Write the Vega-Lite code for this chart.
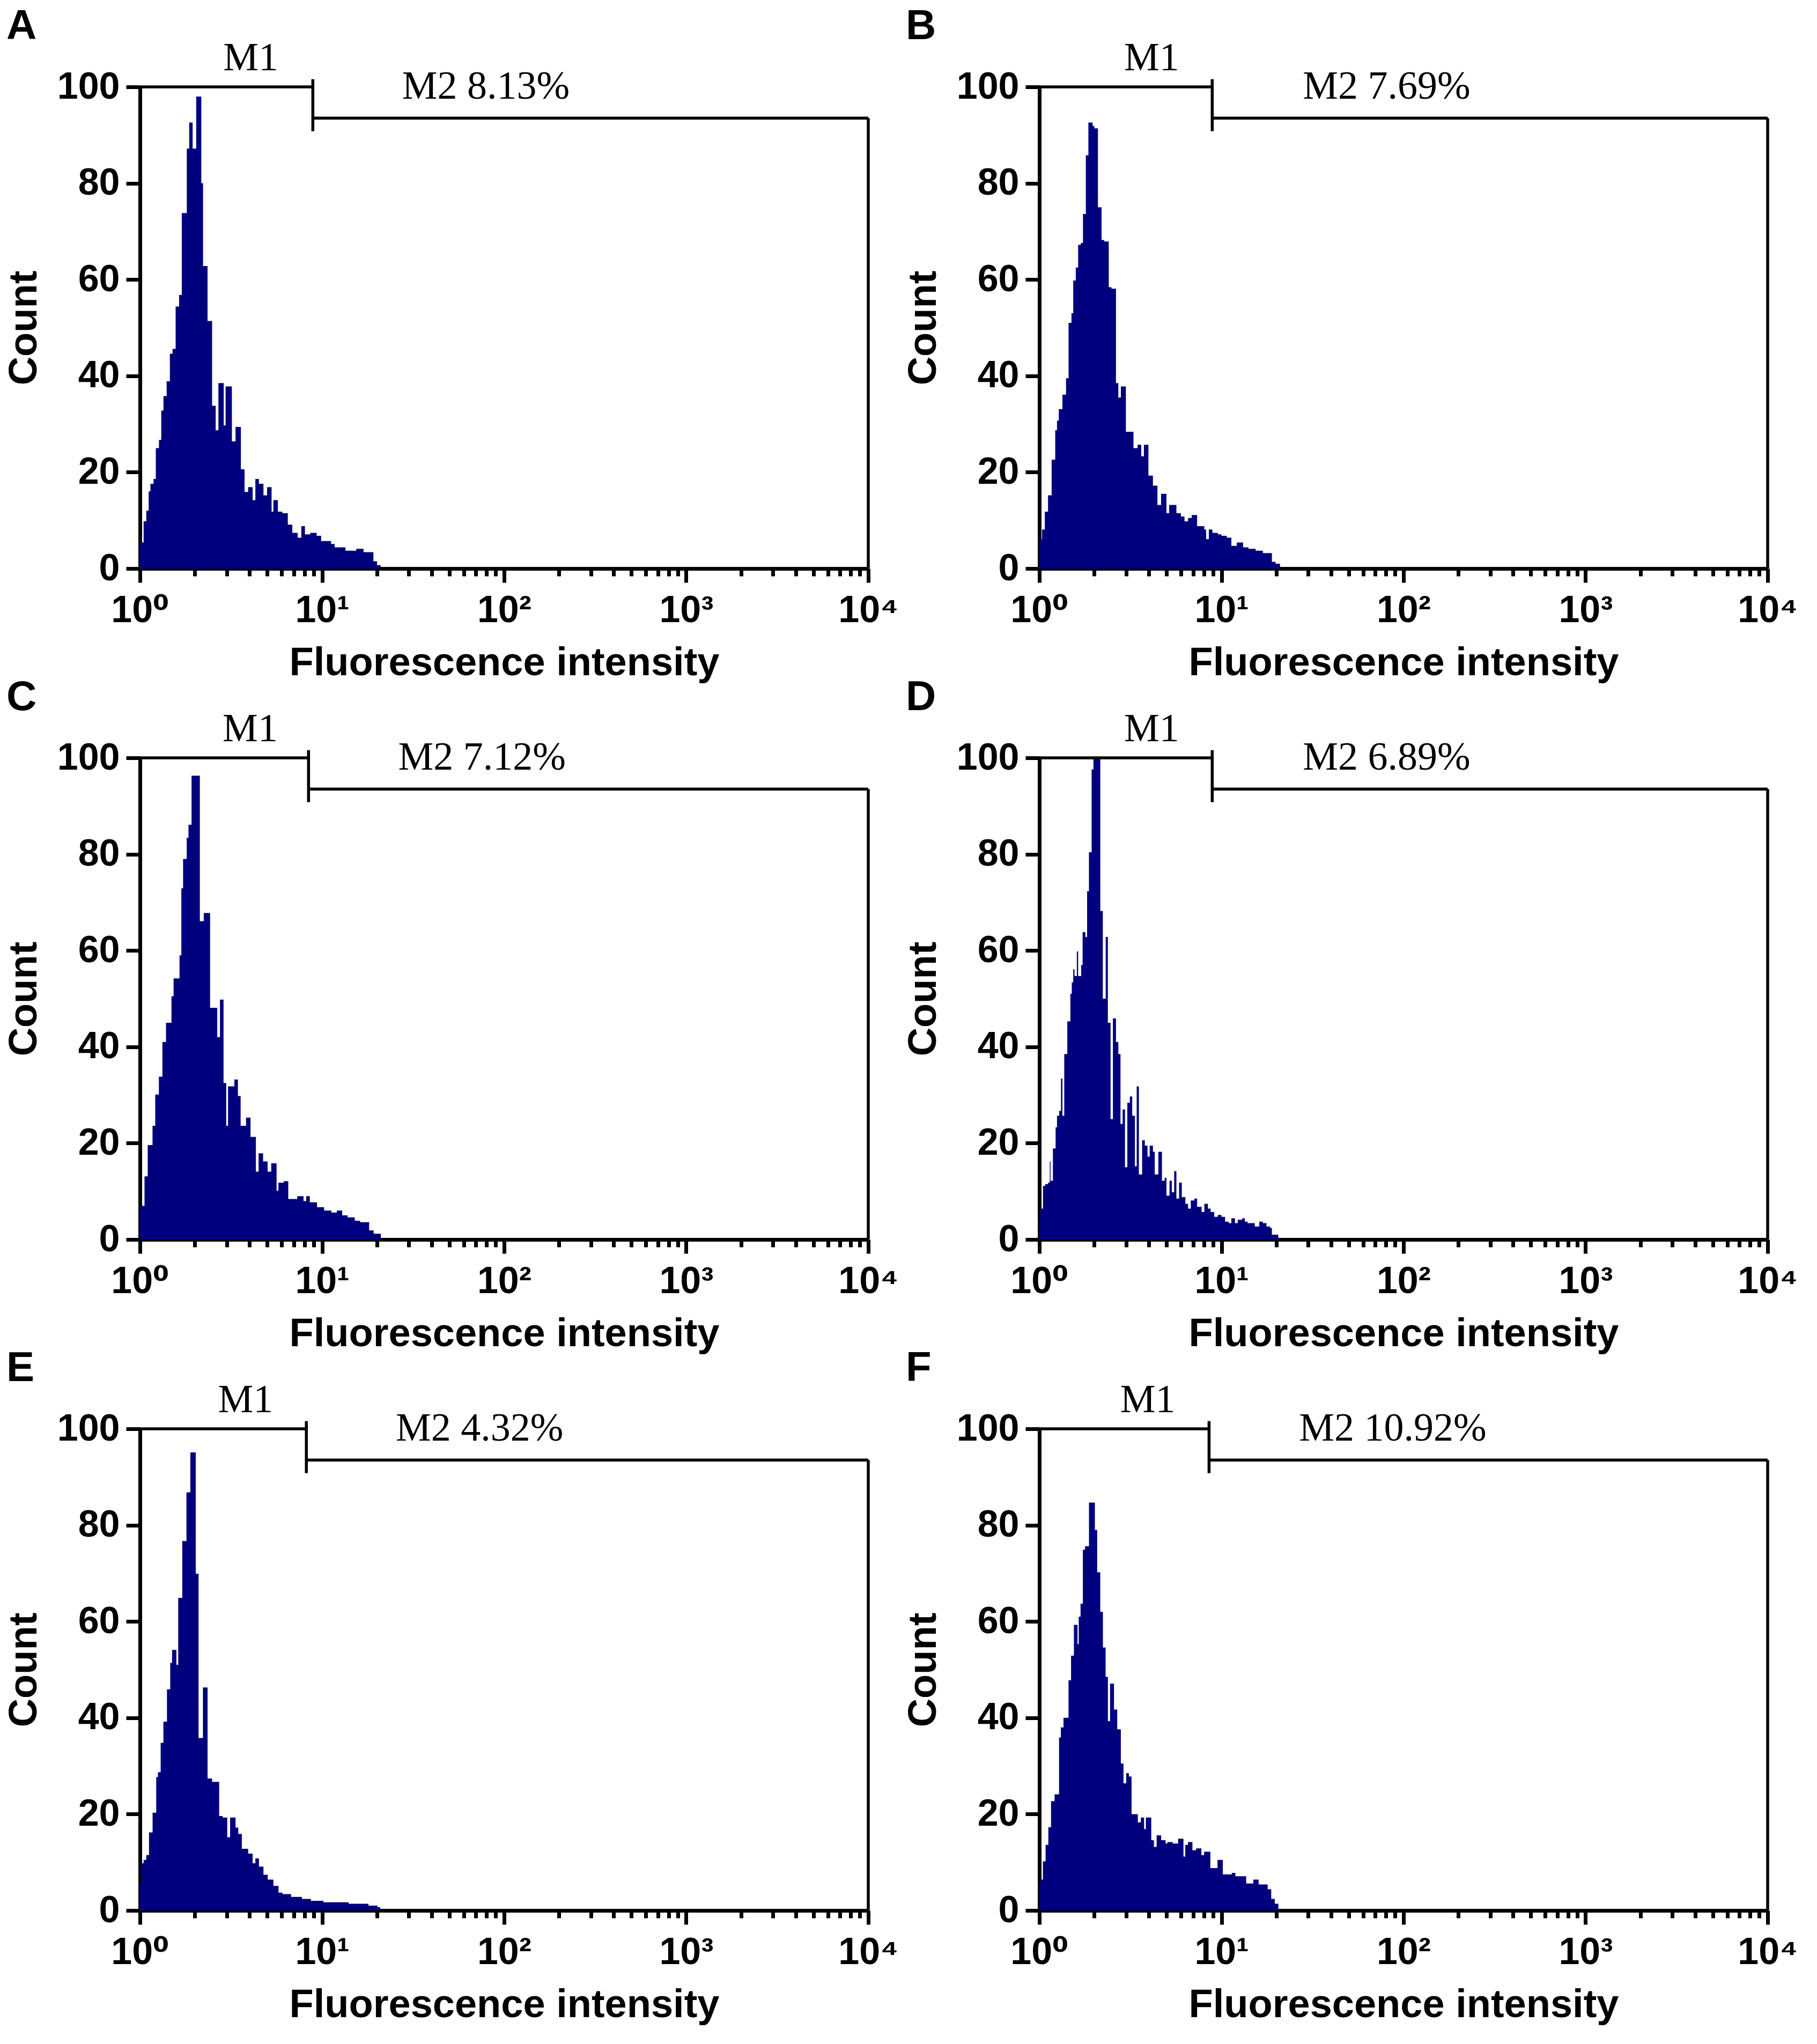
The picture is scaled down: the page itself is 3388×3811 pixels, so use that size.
{
  "$schema": "https://vega.github.io/schema/vega-lite/v6.json",
  "background": "white",
  "padding": {"left": 8, "top": 10, "right": 20, "bottom": 12},
  "config": {
    "view": {"stroke": null},
    "axis": {
      "grid": false,
      "domainColor": "black",
      "domainWidth": 7,
      "tickColor": "black",
      "tickWidth": 7,
      "tickSize": 26,
      "labelFont": "Liberation Sans, DejaVu Sans",
      "labelFontWeight": "bold",
      "labelFontSize": 70,
      "labelColor": "black",
      "titleFont": "Liberation Sans",
      "titleFontWeight": "bold",
      "titleFontSize": 74,
      "titleColor": "black"
    },
    "title": {
      "font": "Liberation Sans",
      "fontSize": 78,
      "fontWeight": "bold",
      "color": "black",
      "anchor": "start",
      "frame": "group",
      "offset": -17
    },
    "text": {"font": "Liberation Serif", "fontSize": 74, "color": "black"},
    "rule": {"color": "black", "strokeWidth": 5.5}
  },
  "datasets": {
    "gates": [
      {"panel": "A", "start": 1, "gate": 8.9, "end": 10000, "m1x": 4.06, "m2x": 27.5, "label": "M2 8.13%"},
      {"panel": "B", "start": 1, "gate": 8.9, "end": 10000, "m1x": 4.14, "m2x": 28.0, "label": "M2 7.69%"},
      {"panel": "C", "start": 1, "gate": 8.43, "end": 10000, "m1x": 4.03, "m2x": 26.2, "label": "M2 7.12%"},
      {"panel": "D", "start": 1, "gate": 8.9, "end": 10000, "m1x": 4.14, "m2x": 28.0, "label": "M2 6.89%"},
      {"panel": "E", "start": 1, "gate": 8.2, "end": 10000, "m1x": 3.8, "m2x": 25.4, "label": "M2 4.32%"},
      {"panel": "F", "start": 1, "gate": 8.55, "end": 10000, "m1x": 3.94, "m2x": 26.7, "label": "M2 10.92%"}
    ],
    "hist": [
      {"panel":"A","fluor":1.0,"count":5.4},{"panel":"A","fluor":1.047,"count":9.8},{"panel":"A","fluor":1.083,"count":12},{"panel":"A","fluor":1.116,"count":16},
      {"panel":"A","fluor":1.141,"count":17.6},{"panel":"A","fluor":1.187,"count":18.6},{"panel":"A","fluor":1.222,"count":25},{"panel":"A","fluor":1.271,"count":26.7},
      {"panel":"A","fluor":1.309,"count":32.8},{"panel":"A","fluor":1.346,"count":35.8},{"panel":"A","fluor":1.401,"count":38.9},{"panel":"A","fluor":1.46,"count":44.6},
      {"panel":"A","fluor":1.51,"count":45.6},{"panel":"A","fluor":1.57,"count":54.4},{"panel":"A","fluor":1.64,"count":56.8},{"panel":"A","fluor":1.697,"count":73.8},
      {"panel":"A","fluor":1.808,"count":87.2},{"panel":"A","fluor":1.864,"count":92.6},{"panel":"A","fluor":1.946,"count":87.2},{"panel":"A","fluor":2.036,"count":98},
      {"panel":"A","fluor":2.172,"count":80},{"panel":"A","fluor":2.22,"count":62.8},{"panel":"A","fluor":2.35,"count":51.4},{"panel":"A","fluor":2.489,"count":33.8},
      {"panel":"A","fluor":2.605,"count":28.7},{"panel":"A","fluor":2.696,"count":38.5},{"panel":"A","fluor":2.885,"count":29.7},{"panel":"A","fluor":2.953,"count":37.8},
      {"panel":"A","fluor":3.198,"count":26.4},{"panel":"A","fluor":3.348,"count":29.4},{"panel":"A","fluor":3.583,"count":20.6},{"panel":"A","fluor":3.753,"count":15.9},
      {"panel":"A","fluor":3.928,"count":16.9},{"panel":"A","fluor":4.157,"count":14.2},{"panel":"A","fluor":4.303,"count":18.6},{"panel":"A","fluor":4.5,"count":17.6},
      {"panel":"A","fluor":4.766,"count":15.2},{"panel":"A","fluor":4.99,"count":16.9},{"panel":"A","fluor":5.282,"count":11.8},{"panel":"A","fluor":5.403,"count":14.2},
      {"panel":"A","fluor":5.719,"count":11.8},{"panel":"A","fluor":6.054,"count":11.5},{"panel":"A","fluor":6.486,"count":9.1},{"panel":"A","fluor":6.867,"count":7.4},
      {"panel":"A","fluor":7.348,"count":6.4},{"panel":"A","fluor":7.692,"count":8.8},{"panel":"A","fluor":8.053,"count":7.1},{"panel":"A","fluor":8.622,"count":7.4},
      {"panel":"A","fluor":9.34,"count":6.8},{"panel":"A","fluor":9.887,"count":5.7},{"panel":"A","fluor":10.59,"count":5.7},{"panel":"A","fluor":11.21,"count":5.1},
      {"panel":"A","fluor":11.73,"count":4.4},{"panel":"A","fluor":12.56,"count":4.4},{"panel":"A","fluor":13.45,"count":3.7},{"panel":"A","fluor":15.42,"count":4.1},
      {"panel":"A","fluor":16.9,"count":3.4},{"panel":"A","fluor":18.08,"count":3.4},{"panel":"A","fluor":19.15,"count":1.5},{"panel":"A","fluor":20.04,"count":0.7},
      {"panel":"A","fluor":20.98,"count":0},

      {"panel":"B","fluor":1.0,"count":6.1},{"panel":"B","fluor":1.035,"count":8.1},{"panel":"B","fluor":1.071,"count":11.8},{"panel":"B","fluor":1.116,"count":15.2},
      {"panel":"B","fluor":1.168,"count":22.6},{"panel":"B","fluor":1.222,"count":28.7},{"panel":"B","fluor":1.25,"count":30.7},{"panel":"B","fluor":1.279,"count":33.1},
      {"panel":"B","fluor":1.339,"count":36.1},{"panel":"B","fluor":1.401,"count":39.5},{"panel":"B","fluor":1.447,"count":51},{"panel":"B","fluor":1.501,"count":53},
      {"panel":"B","fluor":1.535,"count":59.8},{"panel":"B","fluor":1.585,"count":62.5},{"panel":"B","fluor":1.633,"count":67.2},{"panel":"B","fluor":1.69,"count":67.6},
      {"panel":"B","fluor":1.736,"count":73.6},{"panel":"B","fluor":1.8,"count":85.8},{"panel":"B","fluor":1.859,"count":92.6},{"panel":"B","fluor":1.96,"count":91.9},
      {"panel":"B","fluor":2.004,"count":91.4},{"panel":"B","fluor":2.098,"count":75},{"panel":"B","fluor":2.196,"count":68.2},{"panel":"B","fluor":2.272,"count":67.9},
      {"panel":"B","fluor":2.405,"count":58.4},{"panel":"B","fluor":2.489,"count":58.1},{"panel":"B","fluor":2.635,"count":38.5},{"panel":"B","fluor":2.715,"count":35.5},
      {"panel":"B","fluor":2.803,"count":37.8},{"panel":"B","fluor":2.987,"count":28.4},{"panel":"B","fluor":3.126,"count":28.4},{"panel":"B","fluor":3.288,"count":25},
      {"panel":"B","fluor":3.465,"count":25.7},{"panel":"B","fluor":3.626,"count":23.3},{"panel":"B","fluor":3.753,"count":25.7},{"panel":"B","fluor":3.972,"count":19.3},
      {"panel":"B","fluor":4.205,"count":17.2},{"panel":"B","fluor":4.452,"count":13.2},{"panel":"B","fluor":4.66,"count":15.5},{"panel":"B","fluor":4.989,"count":11.5},
      {"panel":"B","fluor":5.163,"count":13.2},{"panel":"B","fluor":5.658,"count":11.5},{"panel":"B","fluor":5.989,"count":10.8},{"panel":"B","fluor":6.266,"count":9.8},
      {"panel":"B","fluor":6.559,"count":10.5},{"panel":"B","fluor":6.866,"count":11.1},{"panel":"B","fluor":7.352,"count":8.8},{"panel":"B","fluor":8.055,"count":8.1},
      {"panel":"B","fluor":8.241,"count":6.1},{"panel":"B","fluor":8.527,"count":8.1},{"panel":"B","fluor":8.923,"count":7.4},{"panel":"B","fluor":9.555,"count":7.1},
      {"panel":"B","fluor":10.0,"count":6.8},{"panel":"B","fluor":10.71,"count":6.4},{"panel":"B","fluor":11.34,"count":4.7},{"panel":"B","fluor":12.14,"count":5.4},
      {"panel":"B","fluor":13.15,"count":4.4},{"panel":"B","fluor":14.08,"count":4.1},{"panel":"B","fluor":15.42,"count":3.7},{"panel":"B","fluor":16.89,"count":3.2},
      {"panel":"B","fluor":18.93,"count":1.4},{"panel":"B","fluor":19.82,"count":1.0},{"panel":"B","fluor":20.98,"count":0},

      {"panel":"C","fluor":1.0,"count":6.7},{"panel":"C","fluor":1.011,"count":7.0},{"panel":"C","fluor":1.059,"count":13.1},{"panel":"C","fluor":1.103,"count":19.6},
      {"panel":"C","fluor":1.172,"count":23.6},{"panel":"C","fluor":1.213,"count":30.1},{"panel":"C","fluor":1.27,"count":33.8},{"panel":"C","fluor":1.328,"count":41.0},
      {"panel":"C","fluor":1.39,"count":45.0},{"panel":"C","fluor":1.489,"count":50.5},{"panel":"C","fluor":1.53,"count":54.2},{"panel":"C","fluor":1.649,"count":59.0},
      {"panel":"C","fluor":1.687,"count":72.9},{"panel":"C","fluor":1.725,"count":79.0},{"panel":"C","fluor":1.806,"count":83.4},{"panel":"C","fluor":1.847,"count":86.1},
      {"panel":"C","fluor":1.92,"count":96.3},{"panel":"C","fluor":2.132,"count":66.1},{"panel":"C","fluor":2.24,"count":67.8},{"panel":"C","fluor":2.427,"count":48.1},
      {"panel":"C","fluor":2.658,"count":42.0},{"panel":"C","fluor":2.75,"count":49.8},{"panel":"C","fluor":2.877,"count":32.5},{"panel":"C","fluor":2.977,"count":23.6},
      {"panel":"C","fluor":3.045,"count":31.8},{"panel":"C","fluor":3.298,"count":33.2},{"panel":"C","fluor":3.451,"count":29.8},{"panel":"C","fluor":3.571,"count":23.6},
      {"panel":"C","fluor":3.823,"count":25.3},{"panel":"C","fluor":4.047,"count":21.3},{"panel":"C","fluor":4.332,"count":14.1},{"panel":"C","fluor":4.482,"count":17.9},
      {"panel":"C","fluor":4.745,"count":16.2},{"panel":"C","fluor":5.023,"count":14.1},{"panel":"C","fluor":5.256,"count":15.8},{"panel":"C","fluor":5.627,"count":10.1},
      {"panel":"C","fluor":5.757,"count":11.8},{"panel":"C","fluor":6.163,"count":12.1},{"panel":"C","fluor":6.522,"count":8.4},{"panel":"C","fluor":7.307,"count":9.0},
      {"panel":"C","fluor":7.912,"count":8.0},{"panel":"C","fluor":8.187,"count":9.0},{"panel":"C","fluor":8.568,"count":7.7},{"panel":"C","fluor":9.384,"count":6.7},
      {"panel":"C","fluor":10.27,"count":6.0},{"panel":"C","fluor":11.25,"count":5.6},{"panel":"C","fluor":12.05,"count":6.0},{"panel":"C","fluor":12.9,"count":5.0},
      {"panel":"C","fluor":13.81,"count":4.6},{"panel":"C","fluor":15.12,"count":3.9},{"panel":"C","fluor":16.19,"count":3.6},{"panel":"C","fluor":18.14,"count":1.9},
      {"panel":"C","fluor":19.2,"count":1.2},{"panel":"C","fluor":21.03,"count":0},

      {"panel":"D","fluor":1.0,"count":3.7},{"panel":"D","fluor":1.011,"count":6.4},{"panel":"D","fluor":1.047,"count":11.1},{"panel":"D","fluor":1.076,"count":11.5},
      {"panel":"D","fluor":1.116,"count":11.8},{"panel":"D","fluor":1.141,"count":16.2},{"panel":"D","fluor":1.152,"count":12.2},{"panel":"D","fluor":1.187,"count":18.9},
      {"panel":"D","fluor":1.228,"count":23.3},{"panel":"D","fluor":1.25,"count":25.7},{"panel":"D","fluor":1.285,"count":26.7},{"panel":"D","fluor":1.315,"count":33.4},
      {"panel":"D","fluor":1.339,"count":25.7},{"panel":"D","fluor":1.37,"count":38.5},{"panel":"D","fluor":1.424,"count":45.3},{"panel":"D","fluor":1.48,"count":51.0},
      {"panel":"D","fluor":1.507,"count":53.4},{"panel":"D","fluor":1.535,"count":56.1},{"panel":"D","fluor":1.56,"count":54.7},{"panel":"D","fluor":1.607,"count":59.8},
      {"panel":"D","fluor":1.633,"count":54.7},{"panel":"D","fluor":1.697,"count":57.0},{"panel":"D","fluor":1.728,"count":63.8},{"panel":"D","fluor":1.789,"count":62.8},
      {"panel":"D","fluor":1.829,"count":72.3},{"panel":"D","fluor":1.872,"count":80.4},{"panel":"D","fluor":1.937,"count":97.6},{"panel":"D","fluor":1.982,"count":99.9},
      {"panel":"D","fluor":2.161,"count":68.2},{"panel":"D","fluor":2.231,"count":50.0},{"panel":"D","fluor":2.314,"count":62.8},{"panel":"D","fluor":2.378,"count":45.0},
      {"panel":"D","fluor":2.461,"count":25.0},{"panel":"D","fluor":2.535,"count":45.9},{"panel":"D","fluor":2.635,"count":41.0},{"panel":"D","fluor":2.715,"count":38.5},
      {"panel":"D","fluor":2.79,"count":24.0},{"panel":"D","fluor":2.867,"count":27.0},{"panel":"D","fluor":2.953,"count":15.0},{"panel":"D","fluor":3.042,"count":28.4},
      {"panel":"D","fluor":3.141,"count":29.7},{"panel":"D","fluor":3.236,"count":25.7},{"panel":"D","fluor":3.349,"count":15.2},{"panel":"D","fluor":3.425,"count":31.8},
      {"panel":"D","fluor":3.52,"count":13.5},{"panel":"D","fluor":3.667,"count":20.6},{"panel":"D","fluor":3.795,"count":19.5},{"panel":"D","fluor":3.927,"count":17.2},
      {"panel":"D","fluor":4.036,"count":19.5},{"panel":"D","fluor":4.205,"count":18.2},{"panel":"D","fluor":4.302,"count":13.5},{"panel":"D","fluor":4.503,"count":18.2},
      {"panel":"D","fluor":4.713,"count":12.2},{"panel":"D","fluor":4.877,"count":12.8},{"panel":"D","fluor":4.989,"count":9.1},{"panel":"D","fluor":5.186,"count":12.2},
      {"panel":"D","fluor":5.341,"count":9.8},{"panel":"D","fluor":5.502,"count":14.2},{"panel":"D","fluor":5.658,"count":8.5},{"panel":"D","fluor":5.852,"count":11.8},
      {"panel":"D","fluor":6.057,"count":8.8},{"panel":"D","fluor":6.339,"count":7.4},{"panel":"D","fluor":6.559,"count":6.4},{"panel":"D","fluor":6.787,"count":8.1},
      {"panel":"D","fluor":7.103,"count":8.5},{"panel":"D","fluor":7.352,"count":6.8},{"panel":"D","fluor":7.785,"count":5.7},{"panel":"D","fluor":8.055,"count":7.4},
      {"panel":"D","fluor":8.428,"count":6.4},{"panel":"D","fluor":8.722,"count":5.7},{"panel":"D","fluor":9.13,"count":4.7},{"panel":"D","fluor":9.555,"count":5.1},
      {"panel":"D","fluor":10.0,"count":4.7},{"panel":"D","fluor":10.47,"count":3.7},{"panel":"D","fluor":10.96,"count":3.4},{"panel":"D","fluor":11.34,"count":4.4},
      {"panel":"D","fluor":11.87,"count":3.4},{"panel":"D","fluor":12.28,"count":4.1},{"panel":"D","fluor":13.0,"count":4.4},{"panel":"D","fluor":13.45,"count":3.7},
      {"panel":"D","fluor":13.92,"count":3.4},{"panel":"D","fluor":14.57,"count":3.4},{"panel":"D","fluor":15.25,"count":2.7},{"panel":"D","fluor":16.14,"count":3.7},
      {"panel":"D","fluor":16.89,"count":3.4},{"panel":"D","fluor":17.68,"count":2.7},{"panel":"D","fluor":18.51,"count":2.4},{"panel":"D","fluor":18.93,"count":1.0},
      {"panel":"D","fluor":20.51,"count":0},

      {"panel":"E","fluor":1.0,"count":5.4},{"panel":"E","fluor":1.011,"count":9.8},{"panel":"E","fluor":1.047,"count":10.5},{"panel":"E","fluor":1.083,"count":11.5},
      {"panel":"E","fluor":1.121,"count":16.2},{"panel":"E","fluor":1.173,"count":20.3},{"panel":"E","fluor":1.228,"count":27.7},{"panel":"E","fluor":1.255,"count":28.7},
      {"panel":"E","fluor":1.299,"count":34.8},{"panel":"E","fluor":1.345,"count":39.2},{"panel":"E","fluor":1.407,"count":45.9},{"panel":"E","fluor":1.466,"count":51.4},
      {"panel":"E","fluor":1.501,"count":54.1},{"panel":"E","fluor":1.585,"count":51.0},{"panel":"E","fluor":1.622,"count":64.9},{"panel":"E","fluor":1.707,"count":76.7},
      {"panel":"E","fluor":1.8,"count":86.8},{"panel":"E","fluor":1.891,"count":95.1},{"panel":"E","fluor":2.025,"count":69.9},{"panel":"E","fluor":2.098,"count":35.8},
      {"panel":"E","fluor":2.217,"count":46.3},{"panel":"E","fluor":2.351,"count":27.4},{"panel":"E","fluor":2.489,"count":26.7},{"panel":"E","fluor":2.722,"count":19.6},
      {"panel":"E","fluor":2.848,"count":19.3},{"panel":"E","fluor":3.015,"count":15.2},{"panel":"E","fluor":3.126,"count":19.3},{"panel":"E","fluor":3.349,"count":17.2},
      {"panel":"E","fluor":3.465,"count":15.9},{"panel":"E","fluor":3.626,"count":12.8},{"panel":"E","fluor":3.927,"count":11.8},{"panel":"E","fluor":4.157,"count":9.8},
      {"panel":"E","fluor":4.302,"count":10.8},{"panel":"E","fluor":4.503,"count":9.1},{"panel":"E","fluor":4.767,"count":7.4},{"panel":"E","fluor":5.03,"count":6.4},
      {"panel":"E","fluor":5.406,"count":5.1},{"panel":"E","fluor":5.766,"count":3.7},{"panel":"E","fluor":6.057,"count":3.4},{"panel":"E","fluor":6.761,"count":2.8},
      {"panel":"E","fluor":7.75,"count":2.4},{"panel":"E","fluor":8.684,"count":2.0},{"panel":"E","fluor":10.18,"count":1.7},{"panel":"E","fluor":14.01,"count":1.4},
      {"panel":"E","fluor":17.98,"count":1.0},{"panel":"E","fluor":20.16,"count":0.7},{"panel":"E","fluor":20.86,"count":0},

      {"panel":"F","fluor":1.0,"count":5.1},{"panel":"F","fluor":1.011,"count":6.4},{"panel":"F","fluor":1.046,"count":10.2},{"panel":"F","fluor":1.082,"count":13.6},
      {"panel":"F","fluor":1.12,"count":17.3},{"panel":"F","fluor":1.159,"count":22.7},{"panel":"F","fluor":1.212,"count":24.1},{"panel":"F","fluor":1.283,"count":35.9},
      {"panel":"F","fluor":1.312,"count":38.0},{"panel":"F","fluor":1.357,"count":40.0},{"panel":"F","fluor":1.446,"count":47.8},{"panel":"F","fluor":1.493,"count":52.9},
      {"panel":"F","fluor":1.548,"count":59.3},{"panel":"F","fluor":1.62,"count":55.3},{"panel":"F","fluor":1.645,"count":61.0},{"panel":"F","fluor":1.684,"count":63.7},
      {"panel":"F","fluor":1.734,"count":74.9},{"panel":"F","fluor":1.781,"count":75.6},{"panel":"F","fluor":1.873,"count":84.7},{"panel":"F","fluor":2.018,"count":79.0},
      {"panel":"F","fluor":2.078,"count":70.2},{"panel":"F","fluor":2.16,"count":62.0},{"panel":"F","fluor":2.234,"count":54.6},{"panel":"F","fluor":2.311,"count":48.5},
      {"panel":"F","fluor":2.38,"count":39.3},{"panel":"F","fluor":2.445,"count":47.1},{"panel":"F","fluor":2.57,"count":41.7},{"panel":"F","fluor":2.677,"count":37.6},
      {"panel":"F","fluor":2.802,"count":30.5},{"panel":"F","fluor":2.898,"count":26.4},{"panel":"F","fluor":2.998,"count":28.5},{"panel":"F","fluor":3.102,"count":27.8},
      {"panel":"F","fluor":3.209,"count":20.0},{"panel":"F","fluor":3.474,"count":18.3},{"panel":"F","fluor":3.61,"count":19.3},{"panel":"F","fluor":3.76,"count":16.9},
      {"panel":"F","fluor":3.846,"count":19.3},{"panel":"F","fluor":4.117,"count":14.6},{"panel":"F","fluor":4.259,"count":13.2},{"panel":"F","fluor":4.406,"count":15.6},
      {"panel":"F","fluor":4.664,"count":14.6},{"panel":"F","fluor":4.934,"count":13.9},{"panel":"F","fluor":5.047,"count":14.2},{"panel":"F","fluor":5.402,"count":13.9},
      {"panel":"F","fluor":5.781,"count":14.9},{"panel":"F","fluor":6.187,"count":11.2},{"panel":"F","fluor":6.329,"count":13.6},{"panel":"F","fluor":6.548,"count":14.2},
      {"panel":"F","fluor":6.929,"count":12.5},{"panel":"F","fluor":7.25,"count":12.9},{"panel":"F","fluor":7.76,"count":11.5},{"panel":"F","fluor":8.028,"count":12.2},
      {"panel":"F","fluor":8.69,"count":8.8},{"panel":"F","fluor":9.514,"count":10.5},{"panel":"F","fluor":10.18,"count":7.5},{"panel":"F","fluor":11.4,"count":7.8},
      {"panel":"F","fluor":11.93,"count":7.1},{"panel":"F","fluor":13.67,"count":5.6},{"panel":"F","fluor":14.96,"count":6.4},{"panel":"F","fluor":16.01,"count":5.4},
      {"panel":"F","fluor":17.94,"count":4.4},{"panel":"F","fluor":18.77,"count":2.4},{"panel":"F","fluor":19.63,"count":1.4},{"panel":"F","fluor":20.54,"count":0}
    ]
  },
  "columns": 2,
  "spacing": {"row": 353, "column": 319},
  "bounds": "flush",
  "concat": [
    {
      "title": {"text": "A", "dx": -249},
      "width": 1358, "height": 898,
      "resolve": {"axis": {"x": "independent"}},
      "layer": [
        {
          "data": {"name": "hist"},
          "transform": [{"filter": "datum.panel === 'A'"}],
          "mark": {"type": "area", "interpolate": "step-after", "color": "#00007f"},
          "encoding": {
            "x": {"field": "fluor", "type": "quantitative", "scale": {"type": "log", "domain": [1, 10000], "nice": false},
              "axis": {"orient": "bottom", "values": [1, 10, 100, 1000, 10000], "labelExpr": "'10' + ['⁰','¹','²','³','⁴'][round(log(datum.value)/LN10)]", "labelFlush": false, "labelPadding": 18, "title": "Fluorescence intensity", "titlePadding": 27}},
            "y": {"field": "count", "type": "quantitative", "scale": {"domain": [0, 100], "nice": false},
              "axis": {"values": [0, 20, 40, 60, 80, 100], "labelPadding": 12, "title": "Count", "titlePadding": 23}}
          }
        },
        {
          "data": {"name": "gates"},
          "transform": [{"filter": "datum.panel === 'A'"}],
          "layer": [
            {"mark": "rule", "encoding": {"x": {"field": "start", "type": "quantitative", "title": null}, "x2": {"field": "gate"}, "y": {"datum": 100}}},
            {"mark": "rule", "encoding": {"x": {"field": "gate", "type": "quantitative", "title": null}, "y": {"datum": 90.8}, "y2": {"datum": 101.6}}},
            {"mark": "rule", "encoding": {"x": {"field": "gate", "type": "quantitative", "title": null,
              "axis": {"orient": "bottom", "values": [2,3,4,5,6,7,8,9,20,30,40,50,60,70,80,90,200,300,400,500,600,700,800,900,2000,3000,4000,5000,6000,7000,8000,9000], "labels": false, "domain": false, "tickSize": 14, "title": null}},
              "x2": {"field": "end"}, "y": {"datum": 93.5}}},
            {"mark": "rule", "encoding": {"x": {"field": "end", "type": "quantitative", "title": null}, "y": {"datum": 0}, "y2": {"datum": 93.5}}},
            {"mark": {"type": "text", "align": "center", "baseline": "alphabetic"}, "encoding": {"x": {"field": "m1x", "type": "quantitative", "title": null}, "y": {"datum": 103.5}, "text": {"value": "M1"}}},
            {"mark": {"type": "text", "align": "left", "baseline": "alphabetic"}, "encoding": {"x": {"field": "m2x", "type": "quantitative", "title": null}, "y": {"datum": 97.6}, "text": {"field": "label"}}}
          ]
        }
      ]
    },
    {
      "title": {"text": "B", "dx": -249},
      "width": 1358, "height": 898,
      "resolve": {"axis": {"x": "independent"}},
      "layer": [
        {
          "data": {"name": "hist"},
          "transform": [{"filter": "datum.panel === 'B'"}],
          "mark": {"type": "area", "interpolate": "step-after", "color": "#00007f"},
          "encoding": {
            "x": {"field": "fluor", "type": "quantitative", "scale": {"type": "log", "domain": [1, 10000], "nice": false},
              "axis": {"orient": "bottom", "values": [1, 10, 100, 1000, 10000], "labelExpr": "'10' + ['⁰','¹','²','³','⁴'][round(log(datum.value)/LN10)]", "labelFlush": false, "labelPadding": 18, "title": "Fluorescence intensity", "titlePadding": 27}},
            "y": {"field": "count", "type": "quantitative", "scale": {"domain": [0, 100], "nice": false},
              "axis": {"values": [0, 20, 40, 60, 80, 100], "labelPadding": 12, "title": "Count", "titlePadding": 23}}
          }
        },
        {
          "data": {"name": "gates"},
          "transform": [{"filter": "datum.panel === 'B'"}],
          "layer": [
            {"mark": "rule", "encoding": {"x": {"field": "start", "type": "quantitative", "title": null}, "x2": {"field": "gate"}, "y": {"datum": 100}}},
            {"mark": "rule", "encoding": {"x": {"field": "gate", "type": "quantitative", "title": null}, "y": {"datum": 90.8}, "y2": {"datum": 101.6}}},
            {"mark": "rule", "encoding": {"x": {"field": "gate", "type": "quantitative", "title": null,
              "axis": {"orient": "bottom", "values": [2,3,4,5,6,7,8,9,20,30,40,50,60,70,80,90,200,300,400,500,600,700,800,900,2000,3000,4000,5000,6000,7000,8000,9000], "labels": false, "domain": false, "tickSize": 14, "title": null}},
              "x2": {"field": "end"}, "y": {"datum": 93.5}}},
            {"mark": "rule", "encoding": {"x": {"field": "end", "type": "quantitative", "title": null}, "y": {"datum": 0}, "y2": {"datum": 93.5}}},
            {"mark": {"type": "text", "align": "center", "baseline": "alphabetic"}, "encoding": {"x": {"field": "m1x", "type": "quantitative", "title": null}, "y": {"datum": 103.5}, "text": {"value": "M1"}}},
            {"mark": {"type": "text", "align": "left", "baseline": "alphabetic"}, "encoding": {"x": {"field": "m2x", "type": "quantitative", "title": null}, "y": {"datum": 97.6}, "text": {"field": "label"}}}
          ]
        }
      ]
    },
    {
      "title": {"text": "C", "dx": -249},
      "width": 1358, "height": 898,
      "resolve": {"axis": {"x": "independent"}},
      "layer": [
        {
          "data": {"name": "hist"},
          "transform": [{"filter": "datum.panel === 'C'"}],
          "mark": {"type": "area", "interpolate": "step-after", "color": "#00007f"},
          "encoding": {
            "x": {"field": "fluor", "type": "quantitative", "scale": {"type": "log", "domain": [1, 10000], "nice": false},
              "axis": {"orient": "bottom", "values": [1, 10, 100, 1000, 10000], "labelExpr": "'10' + ['⁰','¹','²','³','⁴'][round(log(datum.value)/LN10)]", "labelFlush": false, "labelPadding": 18, "title": "Fluorescence intensity", "titlePadding": 27}},
            "y": {"field": "count", "type": "quantitative", "scale": {"domain": [0, 100], "nice": false},
              "axis": {"values": [0, 20, 40, 60, 80, 100], "labelPadding": 12, "title": "Count", "titlePadding": 23}}
          }
        },
        {
          "data": {"name": "gates"},
          "transform": [{"filter": "datum.panel === 'C'"}],
          "layer": [
            {"mark": "rule", "encoding": {"x": {"field": "start", "type": "quantitative", "title": null}, "x2": {"field": "gate"}, "y": {"datum": 100}}},
            {"mark": "rule", "encoding": {"x": {"field": "gate", "type": "quantitative", "title": null}, "y": {"datum": 90.8}, "y2": {"datum": 101.6}}},
            {"mark": "rule", "encoding": {"x": {"field": "gate", "type": "quantitative", "title": null,
              "axis": {"orient": "bottom", "values": [2,3,4,5,6,7,8,9,20,30,40,50,60,70,80,90,200,300,400,500,600,700,800,900,2000,3000,4000,5000,6000,7000,8000,9000], "labels": false, "domain": false, "tickSize": 14, "title": null}},
              "x2": {"field": "end"}, "y": {"datum": 93.5}}},
            {"mark": "rule", "encoding": {"x": {"field": "end", "type": "quantitative", "title": null}, "y": {"datum": 0}, "y2": {"datum": 93.5}}},
            {"mark": {"type": "text", "align": "center", "baseline": "alphabetic"}, "encoding": {"x": {"field": "m1x", "type": "quantitative", "title": null}, "y": {"datum": 103.5}, "text": {"value": "M1"}}},
            {"mark": {"type": "text", "align": "left", "baseline": "alphabetic"}, "encoding": {"x": {"field": "m2x", "type": "quantitative", "title": null}, "y": {"datum": 97.6}, "text": {"field": "label"}}}
          ]
        }
      ]
    },
    {
      "title": {"text": "D", "dx": -249},
      "width": 1358, "height": 898,
      "resolve": {"axis": {"x": "independent"}},
      "layer": [
        {
          "data": {"name": "hist"},
          "transform": [{"filter": "datum.panel === 'D'"}],
          "mark": {"type": "area", "interpolate": "step-after", "color": "#00007f"},
          "encoding": {
            "x": {"field": "fluor", "type": "quantitative", "scale": {"type": "log", "domain": [1, 10000], "nice": false},
              "axis": {"orient": "bottom", "values": [1, 10, 100, 1000, 10000], "labelExpr": "'10' + ['⁰','¹','²','³','⁴'][round(log(datum.value)/LN10)]", "labelFlush": false, "labelPadding": 18, "title": "Fluorescence intensity", "titlePadding": 27}},
            "y": {"field": "count", "type": "quantitative", "scale": {"domain": [0, 100], "nice": false},
              "axis": {"values": [0, 20, 40, 60, 80, 100], "labelPadding": 12, "title": "Count", "titlePadding": 23}}
          }
        },
        {
          "data": {"name": "gates"},
          "transform": [{"filter": "datum.panel === 'D'"}],
          "layer": [
            {"mark": "rule", "encoding": {"x": {"field": "start", "type": "quantitative", "title": null}, "x2": {"field": "gate"}, "y": {"datum": 100}}},
            {"mark": "rule", "encoding": {"x": {"field": "gate", "type": "quantitative", "title": null}, "y": {"datum": 90.8}, "y2": {"datum": 101.6}}},
            {"mark": "rule", "encoding": {"x": {"field": "gate", "type": "quantitative", "title": null,
              "axis": {"orient": "bottom", "values": [2,3,4,5,6,7,8,9,20,30,40,50,60,70,80,90,200,300,400,500,600,700,800,900,2000,3000,4000,5000,6000,7000,8000,9000], "labels": false, "domain": false, "tickSize": 14, "title": null}},
              "x2": {"field": "end"}, "y": {"datum": 93.5}}},
            {"mark": "rule", "encoding": {"x": {"field": "end", "type": "quantitative", "title": null}, "y": {"datum": 0}, "y2": {"datum": 93.5}}},
            {"mark": {"type": "text", "align": "center", "baseline": "alphabetic"}, "encoding": {"x": {"field": "m1x", "type": "quantitative", "title": null}, "y": {"datum": 103.5}, "text": {"value": "M1"}}},
            {"mark": {"type": "text", "align": "left", "baseline": "alphabetic"}, "encoding": {"x": {"field": "m2x", "type": "quantitative", "title": null}, "y": {"datum": 97.6}, "text": {"field": "label"}}}
          ]
        }
      ]
    },
    {
      "title": {"text": "E", "dx": -249},
      "width": 1358, "height": 898,
      "resolve": {"axis": {"x": "independent"}},
      "layer": [
        {
          "data": {"name": "hist"},
          "transform": [{"filter": "datum.panel === 'E'"}],
          "mark": {"type": "area", "interpolate": "step-after", "color": "#00007f"},
          "encoding": {
            "x": {"field": "fluor", "type": "quantitative", "scale": {"type": "log", "domain": [1, 10000], "nice": false},
              "axis": {"orient": "bottom", "values": [1, 10, 100, 1000, 10000], "labelExpr": "'10' + ['⁰','¹','²','³','⁴'][round(log(datum.value)/LN10)]", "labelFlush": false, "labelPadding": 18, "title": "Fluorescence intensity", "titlePadding": 27}},
            "y": {"field": "count", "type": "quantitative", "scale": {"domain": [0, 100], "nice": false},
              "axis": {"values": [0, 20, 40, 60, 80, 100], "labelPadding": 12, "title": "Count", "titlePadding": 23}}
          }
        },
        {
          "data": {"name": "gates"},
          "transform": [{"filter": "datum.panel === 'E'"}],
          "layer": [
            {"mark": "rule", "encoding": {"x": {"field": "start", "type": "quantitative", "title": null}, "x2": {"field": "gate"}, "y": {"datum": 100}}},
            {"mark": "rule", "encoding": {"x": {"field": "gate", "type": "quantitative", "title": null}, "y": {"datum": 90.8}, "y2": {"datum": 101.6}}},
            {"mark": "rule", "encoding": {"x": {"field": "gate", "type": "quantitative", "title": null,
              "axis": {"orient": "bottom", "values": [2,3,4,5,6,7,8,9,20,30,40,50,60,70,80,90,200,300,400,500,600,700,800,900,2000,3000,4000,5000,6000,7000,8000,9000], "labels": false, "domain": false, "tickSize": 14, "title": null}},
              "x2": {"field": "end"}, "y": {"datum": 93.5}}},
            {"mark": "rule", "encoding": {"x": {"field": "end", "type": "quantitative", "title": null}, "y": {"datum": 0}, "y2": {"datum": 93.5}}},
            {"mark": {"type": "text", "align": "center", "baseline": "alphabetic"}, "encoding": {"x": {"field": "m1x", "type": "quantitative", "title": null}, "y": {"datum": 103.5}, "text": {"value": "M1"}}},
            {"mark": {"type": "text", "align": "left", "baseline": "alphabetic"}, "encoding": {"x": {"field": "m2x", "type": "quantitative", "title": null}, "y": {"datum": 97.6}, "text": {"field": "label"}}}
          ]
        }
      ]
    },
    {
      "title": {"text": "F", "dx": -249},
      "width": 1358, "height": 898,
      "resolve": {"axis": {"x": "independent"}},
      "layer": [
        {
          "data": {"name": "hist"},
          "transform": [{"filter": "datum.panel === 'F'"}],
          "mark": {"type": "area", "interpolate": "step-after", "color": "#00007f"},
          "encoding": {
            "x": {"field": "fluor", "type": "quantitative", "scale": {"type": "log", "domain": [1, 10000], "nice": false},
              "axis": {"orient": "bottom", "values": [1, 10, 100, 1000, 10000], "labelExpr": "'10' + ['⁰','¹','²','³','⁴'][round(log(datum.value)/LN10)]", "labelFlush": false, "labelPadding": 18, "title": "Fluorescence intensity", "titlePadding": 27}},
            "y": {"field": "count", "type": "quantitative", "scale": {"domain": [0, 100], "nice": false},
              "axis": {"values": [0, 20, 40, 60, 80, 100], "labelPadding": 12, "title": "Count", "titlePadding": 23}}
          }
        },
        {
          "data": {"name": "gates"},
          "transform": [{"filter": "datum.panel === 'F'"}],
          "layer": [
            {"mark": "rule", "encoding": {"x": {"field": "start", "type": "quantitative", "title": null}, "x2": {"field": "gate"}, "y": {"datum": 100}}},
            {"mark": "rule", "encoding": {"x": {"field": "gate", "type": "quantitative", "title": null}, "y": {"datum": 90.8}, "y2": {"datum": 101.6}}},
            {"mark": "rule", "encoding": {"x": {"field": "gate", "type": "quantitative", "title": null,
              "axis": {"orient": "bottom", "values": [2,3,4,5,6,7,8,9,20,30,40,50,60,70,80,90,200,300,400,500,600,700,800,900,2000,3000,4000,5000,6000,7000,8000,9000], "labels": false, "domain": false, "tickSize": 14, "title": null}},
              "x2": {"field": "end"}, "y": {"datum": 93.5}}},
            {"mark": "rule", "encoding": {"x": {"field": "end", "type": "quantitative", "title": null}, "y": {"datum": 0}, "y2": {"datum": 93.5}}},
            {"mark": {"type": "text", "align": "center", "baseline": "alphabetic"}, "encoding": {"x": {"field": "m1x", "type": "quantitative", "title": null}, "y": {"datum": 103.5}, "text": {"value": "M1"}}},
            {"mark": {"type": "text", "align": "left", "baseline": "alphabetic"}, "encoding": {"x": {"field": "m2x", "type": "quantitative", "title": null}, "y": {"datum": 97.6}, "text": {"field": "label"}}}
          ]
        }
      ]
    }
  ]
}
